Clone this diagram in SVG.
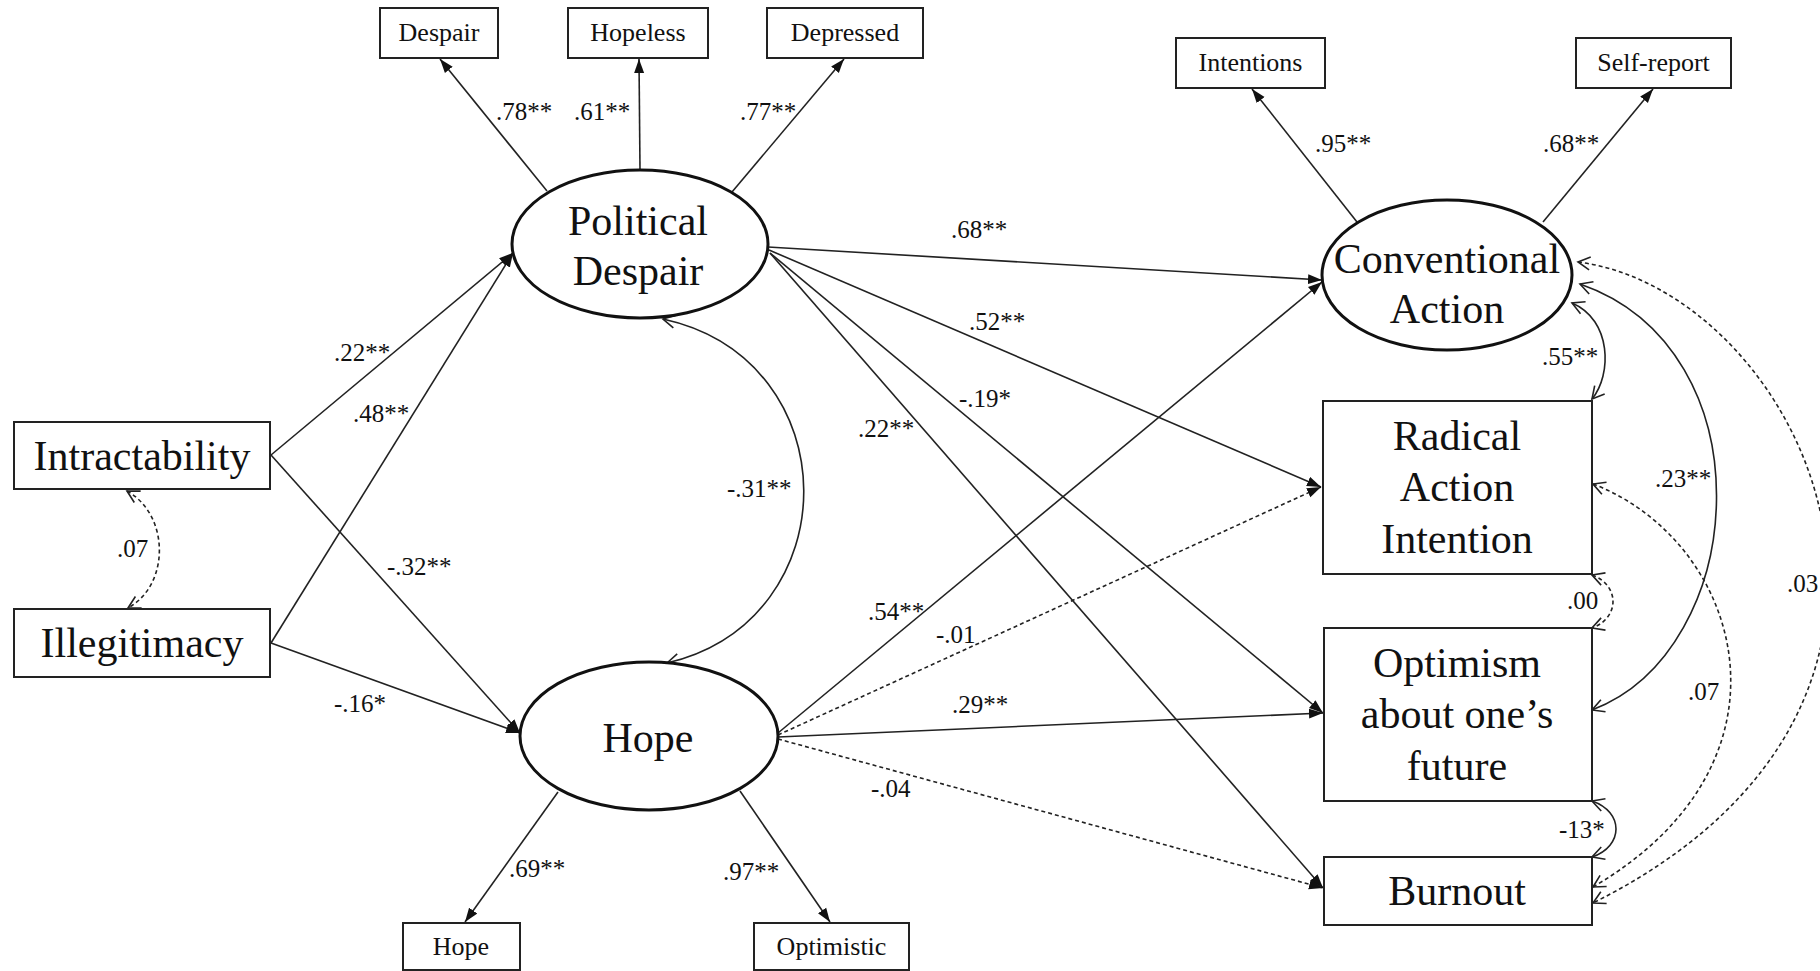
<svg xmlns="http://www.w3.org/2000/svg" width="1820" height="971" viewBox="0 0 1820 971">
<defs>
<style>
.box{fill:#fff;stroke:#222;stroke-width:2}
.lat{fill:#fff;stroke:#111;stroke-width:3}
.big{font-family:"Liberation Serif","Times New Roman",serif;font-size:42px;fill:#111;text-anchor:middle}
.ind{font-family:"Liberation Serif","Times New Roman",serif;font-size:26px;fill:#111;text-anchor:middle}
.lab{font-family:"Liberation Serif","Times New Roman",serif;font-size:25px;fill:#111}
.p{fill:none;stroke:#222;stroke-width:1.6;marker-end:url(#fa)}
.pd{fill:none;stroke:#222;stroke-width:1.6;stroke-dasharray:4 3;marker-end:url(#fa)}
.c{fill:none;stroke:#222;stroke-width:1.6;marker-start:url(#oa);marker-end:url(#oa)}
.cd{fill:none;stroke:#222;stroke-width:1.6;stroke-dasharray:4 3;marker-start:url(#oa);marker-end:url(#oa)}
</style>
<marker id="fa" markerUnits="userSpaceOnUse" markerWidth="15" markerHeight="11" refX="14" refY="5.5" orient="auto">
<path d="M0,0.5 L14,5.5 L0,10.5 z" fill="#111"/>
</marker>
<marker id="oa" markerUnits="userSpaceOnUse" markerWidth="16" markerHeight="16" refX="13" refY="8" orient="auto-start-reverse">
<path d="M1,1.5 L13,8 L1,14.5" fill="none" stroke="#222" stroke-width="1.6"/>
</marker>
</defs>

<g id="connectors">
<!-- measurement -->
<line class="p" x1="547" y1="191" x2="440" y2="59"/>
<line class="p" x1="640" y1="170" x2="639" y2="59"/>
<line class="p" x1="732" y1="192" x2="844" y2="59"/>
<line class="p" x1="1357" y1="222" x2="1252" y2="89"/>
<line class="p" x1="1543" y1="222" x2="1653" y2="89"/>
<line class="p" x1="558" y1="792" x2="465" y2="922"/>
<line class="p" x1="740" y1="791" x2="830" y2="922"/>
<!-- exogenous to mediators -->
<line class="p" x1="271" y1="455" x2="513" y2="253"/>
<line class="p" x1="271" y1="643" x2="513" y2="253"/>
<line class="p" x1="271" y1="455" x2="520" y2="733"/>
<line class="p" x1="271" y1="643" x2="520" y2="733"/>
<!-- political despair paths -->
<line class="p" x1="768" y1="247" x2="1322" y2="280"/>
<line class="p" x1="769" y1="250" x2="1321" y2="487"/>
<line class="p" x1="770" y1="253" x2="1323" y2="713"/>
<line class="p" x1="770" y1="253" x2="1323" y2="888"/>
<!-- hope paths -->
<line class="p" x1="778" y1="733" x2="1322" y2="282"/>
<line class="pd" x1="778" y1="735" x2="1321" y2="487"/>
<line class="p" x1="778" y1="737" x2="1323" y2="713"/>
<line class="pd" x1="778" y1="739" x2="1323" y2="888"/>
<!-- covariances -->
<path class="cd" d="M127,491 C170,515 170,585 128,608"/>
<path class="c" d="M663,319 C850,360 850,620 667,663"/>
<path class="c" d="M1572,303 C1612,320 1612,375 1592,399"/>
<path class="c" d="M1580,284 C1770,350 1750,650 1592,710"/>
<path class="cd" d="M1593,484 C1740,540 1810,760 1593,887"/>
<path class="cd" d="M1578,262 C1800,290 2000,700 1593,903"/>
<path class="cd" d="M1592,575 C1620,585 1620,618 1592,628"/>
<path class="c" d="M1592,801 C1624,812 1624,846 1592,857"/>
</g>

<g id="labels">
<text class="lab" x="496" y="120">.78**</text>
<text class="lab" x="574" y="120">.61**</text>
<text class="lab" x="740" y="120">.77**</text>
<text class="lab" x="1315" y="152">.95**</text>
<text class="lab" x="1543" y="152">.68**</text>
<text class="lab" x="509" y="877">.69**</text>
<text class="lab" x="723" y="880">.97**</text>
<text class="lab" x="334" y="361">.22**</text>
<text class="lab" x="353" y="422">.48**</text>
<text class="lab" x="387" y="575">-.32**</text>
<text class="lab" x="334" y="712">-.16*</text>
<text class="lab" x="117" y="557">.07</text>
<text class="lab" x="727" y="497">-.31**</text>
<text class="lab" x="951" y="238">.68**</text>
<text class="lab" x="969" y="330">.52**</text>
<text class="lab" x="959" y="407">-.19*</text>
<text class="lab" x="858" y="437">.22**</text>
<text class="lab" x="868" y="620">.54**</text>
<text class="lab" x="936" y="643">-.01</text>
<text class="lab" x="952" y="713">.29**</text>
<text class="lab" x="871" y="797">-.04</text>
<text class="lab" x="1542" y="365">.55**</text>
<text class="lab" x="1655" y="487">.23**</text>
<text class="lab" x="1567" y="609">.00</text>
<text class="lab" x="1688" y="700">.07</text>
<text class="lab" x="1787" y="592">.03</text>
<text class="lab" x="1559" y="838">-13*</text>
</g>

<g id="despair-ind"><rect class="box" x="380" y="8" width="118" height="50"/><text class="ind" x="439" y="41">Despair</text></g>
<g id="hopeless-ind"><rect class="box" x="568" y="8" width="140" height="50"/><text class="ind" x="638" y="41">Hopeless</text></g>
<g id="depressed-ind"><rect class="box" x="767" y="8" width="156" height="50"/><text class="ind" x="845" y="41">Depressed</text></g>
<g id="intentions-ind"><rect class="box" x="1176" y="38" width="149" height="50"/><text class="ind" x="1250.5" y="71">Intentions</text></g>
<g id="selfreport-ind"><rect class="box" x="1576" y="38" width="155" height="50"/><text class="ind" x="1653.5" y="71">Self-report</text></g>
<g id="hope-ind"><rect class="box" x="403" y="923" width="117" height="47"/><text class="ind" x="461" y="955">Hope</text></g>
<g id="optimistic-ind"><rect class="box" x="754" y="923" width="155" height="47"/><text class="ind" x="831.5" y="955">Optimistic</text></g>

<g id="intractability"><rect class="box" x="14" y="422" width="256" height="67"/><text class="big" x="142" y="470">Intractability</text></g>
<g id="illegitimacy"><rect class="box" x="14" y="609" width="256" height="68"/><text class="big" x="142" y="657">Illegitimacy</text></g>

<g id="political-despair"><ellipse class="lat" cx="640" cy="244" rx="128" ry="74"/><text class="big" x="638" y="235">Political</text><text class="big" x="638" y="285">Despair</text></g>
<g id="hope"><ellipse class="lat" cx="649" cy="736" rx="129" ry="74"/><text class="big" x="648" y="752">Hope</text></g>
<g id="conventional-action"><ellipse class="lat" cx="1447" cy="275" rx="125" ry="75"/><text class="big" x="1447" y="273">Conventional</text><text class="big" x="1447" y="323">Action</text></g>

<g id="radical"><rect class="box" x="1323" y="401" width="269" height="173"/><text class="big" x="1457" y="450">Radical</text><text class="big" x="1457" y="501">Action</text><text class="big" x="1457" y="553">Intention</text></g>
<g id="optimism"><rect class="box" x="1324" y="628" width="268" height="173"/><text class="big" x="1457" y="677">Optimism</text><text class="big" x="1457" y="728">about one’s</text><text class="big" x="1457" y="780">future</text></g>
<g id="burnout"><rect class="box" x="1324" y="857" width="268" height="68"/><text class="big" x="1457" y="905">Burnout</text></g>
</svg>
